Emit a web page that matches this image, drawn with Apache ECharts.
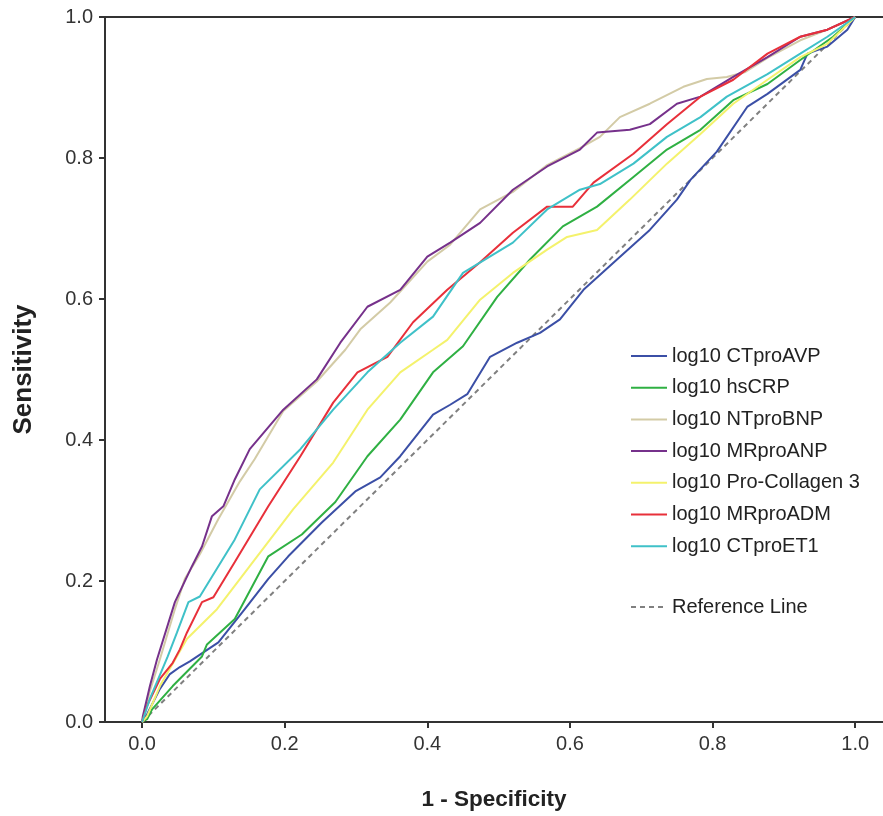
<!DOCTYPE html>
<html>
<head>
<meta charset="utf-8">
<script src="https://cdn.jsdelivr.net/npm/echarts@6/dist/echarts.min.js"></script>
<style>
html,body{margin:0;padding:0;background:#fff;}
#chart{width:883px;height:816px;}
</style>
</head>
<body>
<div id="chart"></div>
<script>
// ROC curves: [1 - Specificity, Sensitivity]
const ctproAVP = [[0,0],[0.007,0.011],[0.025,0.047],[0.039,0.068],[0.053,0.078],[0.067,0.086],[0.107,0.113],[0.144,0.160],[0.177,0.203],[0.205,0.235],[0.252,0.283],[0.299,0.327],[0.334,0.347],[0.362,0.377],[0.408,0.436],[0.432,0.450],[0.456,0.465],[0.488,0.518],[0.526,0.538],[0.558,0.552],[0.586,0.571],[0.619,0.613],[0.666,0.656],[0.712,0.698],[0.750,0.741],[0.769,0.769],[0.806,0.809],[0.849,0.873],[0.877,0.891],[0.923,0.925],[0.933,0.948],[0.961,0.958],[0.989,0.982],[1,1]];
const hsCRP = [[0,0],[0.007,0.004],[0.014,0.018],[0.043,0.051],[0.084,0.093],[0.091,0.110],[0.130,0.146],[0.177,0.235],[0.224,0.266],[0.271,0.312],[0.316,0.377],[0.362,0.429],[0.408,0.496],[0.450,0.533],[0.498,0.603],[0.544,0.656],[0.590,0.703],[0.638,0.731],[0.689,0.773],[0.736,0.812],[0.783,0.840],[0.829,0.882],[0.877,0.905],[0.923,0.939],[0.969,0.972],[1,1]];
const ntproBNP = [[0,0],[0.011,0.044],[0.025,0.089],[0.046,0.160],[0.060,0.203],[0.081,0.238],[0.107,0.288],[0.137,0.341],[0.158,0.373],[0.198,0.441],[0.245,0.483],[0.285,0.528],[0.306,0.557],[0.348,0.595],[0.400,0.653],[0.432,0.677],[0.474,0.727],[0.520,0.752],[0.568,0.790],[0.614,0.814],[0.642,0.830],[0.670,0.858],[0.712,0.877],[0.759,0.901],[0.792,0.912],[0.820,0.915],[0.846,0.922],[0.877,0.942],[0.923,0.967],[0.961,0.982],[1,1]];
const mrproANP = [[0,0],[0.001,0.008],[0.011,0.051],[0.021,0.089],[0.046,0.170],[0.070,0.221],[0.084,0.249],[0.098,0.292],[0.114,0.306],[0.130,0.344],[0.151,0.387],[0.198,0.443],[0.245,0.486],[0.278,0.538],[0.316,0.589],[0.362,0.613],[0.400,0.660],[0.432,0.680],[0.474,0.708],[0.520,0.755],[0.568,0.788],[0.614,0.812],[0.638,0.836],[0.684,0.840],[0.712,0.848],[0.750,0.877],[0.783,0.887],[0.829,0.915],[0.877,0.943],[0.923,0.972],[0.961,0.982],[1,1]];
const proCollagen3 = [[0,0],[0.007,0.008],[0.025,0.051],[0.063,0.118],[0.105,0.160],[0.151,0.221],[0.212,0.302],[0.268,0.368],[0.316,0.443],[0.362,0.496],[0.408,0.528],[0.428,0.542],[0.474,0.599],[0.520,0.637],[0.568,0.670],[0.596,0.688],[0.638,0.698],[0.684,0.741],[0.736,0.792],[0.783,0.834],[0.829,0.877],[0.877,0.911],[0.923,0.943],[0.961,0.962],[1,1]];
const mrproADM = [[0,0],[0.007,0.023],[0.025,0.061],[0.043,0.084],[0.053,0.103],[0.063,0.127],[0.084,0.170],[0.100,0.177],[0.130,0.227],[0.177,0.306],[0.222,0.377],[0.268,0.453],[0.302,0.496],[0.344,0.518],[0.380,0.567],[0.428,0.613],[0.474,0.652],[0.520,0.694],[0.568,0.731],[0.604,0.731],[0.633,0.765],[0.689,0.806],[0.736,0.848],[0.783,0.887],[0.829,0.911],[0.877,0.948],[0.923,0.972],[0.961,0.982],[1,1]];
const ctproET1 = [[0,0],[0.011,0.033],[0.036,0.093],[0.049,0.127],[0.065,0.170],[0.081,0.178],[0.130,0.259],[0.165,0.330],[0.222,0.387],[0.268,0.443],[0.316,0.496],[0.362,0.538],[0.408,0.575],[0.450,0.637],[0.520,0.680],[0.568,0.727],[0.614,0.755],[0.642,0.763],[0.689,0.792],[0.736,0.830],[0.783,0.858],[0.820,0.887],[0.877,0.919],[0.923,0.948],[0.961,0.972],[1,1]];
const referenceLine = [[0,0],[1,1]];

const seriesNames = ['log10 CTproAVP','log10 hsCRP','log10 NTproBNP','log10 MRproANP','log10 Pro-Collagen 3','log10 MRproADM','log10 CTproET1'];
const seriesData = [ctproAVP, hsCRP, ntproBNP, mrproANP, proCollagen3, mrproADM, ctproET1];
const seriesColors = ['#3b4fa6','#2fb043','#d3cba6','#76318b','#f4f26c','#e8303a','#3fc1c8'];
const tickValues = [0, 0.2, 0.4, 0.6, 0.8, 1.0];

const FONT = 'Liberation Sans, Arial, sans-serif';
const chart = echarts.init(document.getElementById('chart'), null, {renderer: 'canvas'});

const series = seriesData.map((d, i) => ({
  name: seriesNames[i],
  type: 'line',
  data: d,
  symbol: 'none',
  smooth: false,
  lineStyle: {color: seriesColors[i], width: 2},
  itemStyle: {color: seriesColors[i]},
  silent: true,
  z: 3
}));
series.push({
  name: 'Reference Line',
  type: 'line',
  data: referenceLine,
  symbol: 'none',
  lineStyle: {color: '#808080', width: 2, type: [5, 4]},
  itemStyle: {color: '#808080'},
  silent: true,
  z: 2
});

const legendCommon = {
  orient: 'vertical',
  left: 630,
  padding: 0,
  itemWidth: 36,
  itemHeight: 14,
  itemGap: 11.7,
  itemStyle: {opacity: 0},
  textStyle: {fontFamily: FONT, fontSize: 20, lineHeight: 14, color: '#222'},
  selectedMode: false
};

chart.setOption({
  animation: false,
  backgroundColor: '#fff',
  grid: {left: 105, top: 17, right: 0, bottom: 93, containLabel: false},
  legend: [
    Object.assign({data: seriesNames, top: 346}, legendCommon),
    Object.assign({data: ['Reference Line'], top: 597}, legendCommon)
  ],
  xAxis: [{
    type: 'value',
    min: -0.052,
    max: 1.039,
    position: 'bottom',
    name: '1 - Specificity',
    nameLocation: 'middle',
    nameGap: 66,
    nameTextStyle: {fontFamily: FONT, fontSize: 22.5, fontWeight: 'bold', color: '#222'},
    axisLine: {show: true, onZero: false, lineStyle: {color: '#333', width: 2}},
    axisTick: {show: true, inside: false, length: 6, customValues: tickValues, lineStyle: {color: '#333', width: 2}},
    axisLabel: {customValues: tickValues, formatter: v => v.toFixed(1), fontFamily: FONT, fontSize: 20, color: '#333', margin: 12},
    splitLine: {show: false}
  }, {
    type: 'value',
    min: -0.052,
    max: 1.039,
    position: 'top',
    axisLine: {show: true, onZero: false, lineStyle: {color: '#333', width: 2}},
    axisTick: {show: false},
    axisLabel: {show: false},
    splitLine: {show: false}
  }],
  yAxis: {
    type: 'value',
    min: 0,
    max: 1,
    interval: 0.2,
    name: 'Sensitivity',
    nameLocation: 'middle',
    nameGap: 68,
    nameRotate: 90,
    nameTextStyle: {fontFamily: FONT, fontSize: 26, fontWeight: 'bold', color: '#222'},
    axisLine: {show: true, onZero: false, lineStyle: {color: '#333', width: 2}},
    axisTick: {show: true, inside: false, length: 6, lineStyle: {color: '#333', width: 2}},
    axisLabel: {formatter: v => v.toFixed(1), fontFamily: FONT, fontSize: 20, color: '#333', margin: 12},
    splitLine: {show: false}
  },
  series: series
});
</script>
</body>
</html>
